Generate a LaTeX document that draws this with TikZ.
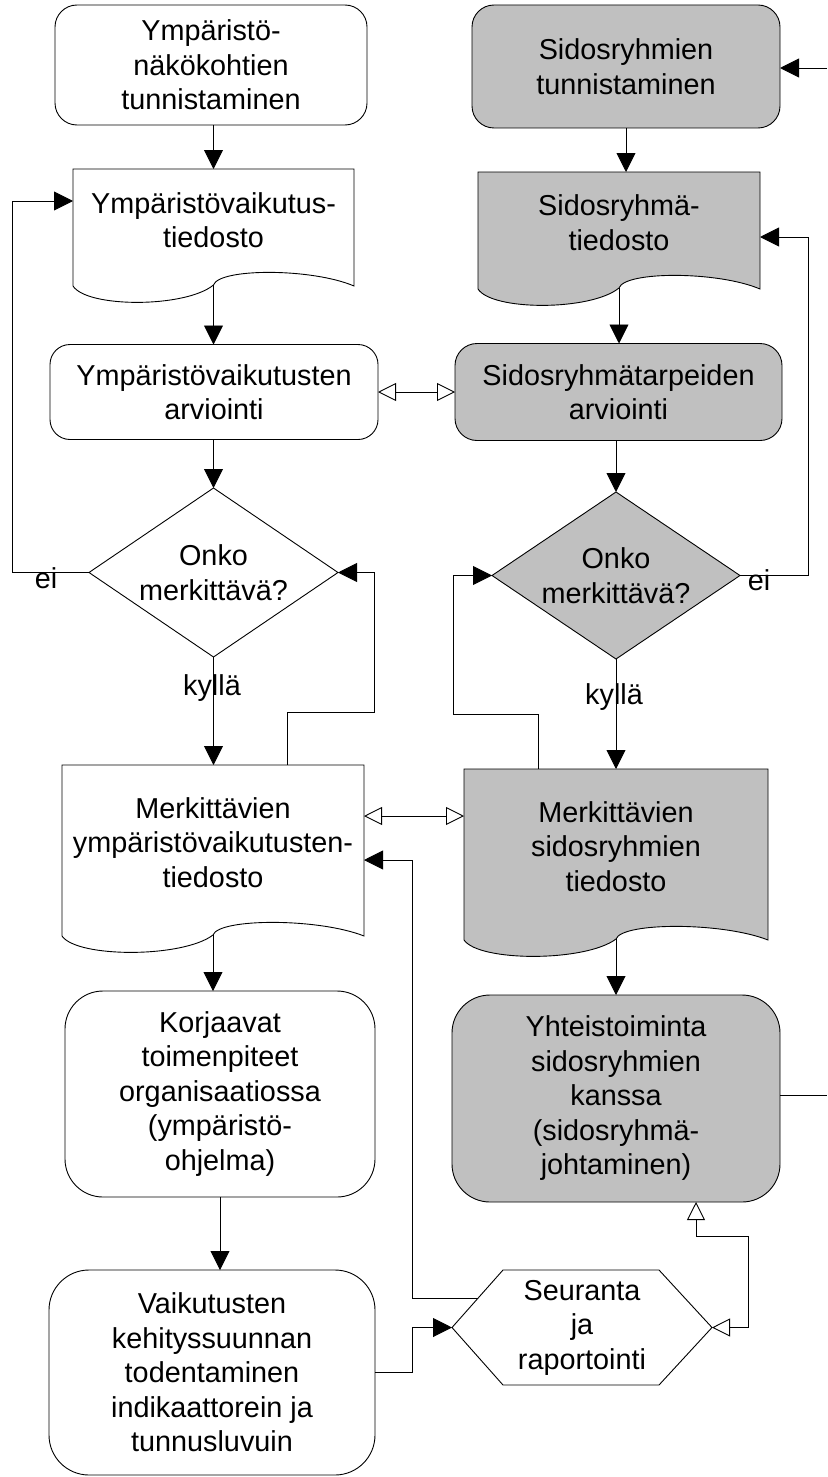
\documentclass[tikz,border=0pt]{standalone}
\usepackage{fontspec}
\setmainfont{Liberation Sans}
\usetikzlibrary{arrows.meta,shapes.geometric,calc}
\definecolor{sgray}{HTML}{C0C0C0}
\newcommand\fs{\fontsize{28.8pt}{34.5pt}\selectfont}
\newcommand\mydoc[5]{%
  \pgfmathsetmacro\dW{#3-#2}%
  \pgfmathsetmacro\dM{(#2+#3)/2}%
  \path[#1] (#2,#4) -- (#3,#4) -- (#3,#5)
    .. controls (#3-0.15*\dW,#5-18) and (\dM+0.02*\dW,#5-18) .. (\dM,#5-1)
    .. controls (\dM-0.1*\dW,#5+22) and (#2+0.05*\dW,#5+22) .. (#2,#5) -- cycle;}
\begin{document}
\begin{tikzpicture}[x=1pt,y=-1pt,
  base/.style={font=\fs, align=center, inner sep=0pt, outer sep=0pt},
  rbox/.style={base, draw, line width=0.9pt, rounded corners=#1},
  rbox/.default=22pt,
  gray/.style={fill=sgray},
  dia/.style={base, draw, line width=0.9pt, diamond, aspect=1.47},
  outline/.style={draw, line width=0.9pt},
  conn/.style={line width=0.9pt},
  arr/.style={conn, -{Triangle[length=19pt,width=19pt]}},
  oboth/.style={conn, {Triangle[open,length=18pt,width=18pt]}-{Triangle[open,length=18pt,width=18pt]}},
  lab/.style={base}]
\fill[white] (0,0) rectangle (827,1477);
\useasboundingbox (0,0) rectangle (827,1477);

% ---- document outlines (drawn first)
\mydoc{outline, fill=white}{73}{354}{169}{286}
\mydoc{outline, fill=sgray}{478}{760}{172}{289}
\mydoc{outline, fill=white}{62}{364}{765}{936}
\mydoc{outline, fill=sgray}{464}{768}{769}{940}

% ---- left column
\node[rbox, minimum width=312pt, minimum height=120pt] (L1) at (211,65) {Ympäristö-\\näkökohtien\\tunnistaminen};
\node[base, minimum width=281pt, minimum height=102pt] (L2) at (213.5,220) {Ympäristövaikutus-\\tiedosto};
\coordinate (L2c) at (213.5,285);
\node[rbox=20pt, minimum width=328pt, minimum height=95pt] (L3) at (214,392) {Ympäristövaikutusten\\arviointi};
\node[dia, minimum width=249pt, minimum height=169pt] (L4) at (213.5,572.5) {Onko\\merkittävä?};
\node[base, minimum width=302pt, minimum height=155pt] (L5) at (213,842.5) {Merkittävien\\ympäristövaikutusten-\\tiedosto};
\coordinate (L5c) at (213,935);
\node[rbox=38pt, minimum width=310pt, minimum height=206pt] (L6) at (220,1094) {Korjaavat\\toimenpiteet\\organisaatiossa\\(ympäristö-\\ohjelma)};
\node[rbox=40pt, minimum width=326pt, minimum height=205pt] (L7) at (212,1372.5) {Vaikutusten\\kehityssuunnan\\todentaminen\\indikaattorein ja\\tunnusluvuin};

% ---- right column
\node[rbox, gray, minimum width=308pt, minimum height=123pt] (R1) at (626,66.5) {Sidosryhmien\\tunnistaminen};
\node[base, minimum width=282pt, minimum height=101pt] (R2) at (619,222.5) {Sidosryhmä-\\tiedosto};
\coordinate (R2c) at (619,288);
\node[rbox, gray, minimum width=327pt, minimum height=97pt] (R3) at (618.5,392) {Sidosryhmätarpeiden\\arviointi};
\node[dia, gray, minimum width=248pt, minimum height=167pt] (R4) at (616,575.5) {Onko\\merkittävä?};
\node[base, minimum width=304pt, minimum height=155pt] (R5) at (616,846.5) {Merkittävien\\sidosryhmien\\tiedosto};
\coordinate (R5c) at (616,939);
\node[rbox=38pt, gray, minimum width=328pt, minimum height=207pt] (R6) at (616,1098.5) {Yhteistoiminta\\sidosryhmien\\kanssa\\(sidosryhmä-\\johtaminen)};

% ---- hexagon
\node[base, minimum width=260pt, minimum height=115pt] (hex) at (582,1327.5) {Seuranta\\ja\\raportointi};
\draw[outline] (hex.west) -- ($(hex.north west)+(51,0)$) -- ($(hex.north east)+(-53,0)$) -- (hex.east)
  -- ($(hex.south east)+(-53,0)$) -- ($(hex.south west)+(51,0)$) -- cycle;

% ---- coordinates for bends and free ends
\coordinate (eiL) at (12,201);
\coordinate (eiR) at (808,237);
\coordinate (lpLa) at (287,712);
\coordinate (lpLb) at (374,712);
\coordinate (lpRa) at (538,714);
\coordinate (lpRb) at (453,714);
\coordinate (hxA) at (478,1298);
\coordinate (hxB) at (412,1298);
\coordinate (hxC) at (412,860);
\coordinate (l7b) at (412,1327.5);
\coordinate (hrA) at (748,1327.5);
\coordinate (hrB) at (748,1236);
\coordinate (hrC) at (696,1236);
\coordinate (mid5) at (414,816);
\coordinate (inR1) at (827,68);
\coordinate (outR6) at (827,1095);

% ---- left connectors
\draw[arr] (L2.north |- L1.south) -- (L2.north);
\draw[arr] (L2c) -- (L2c |- L3.north);
\draw[arr] (L4.north |- L3.south) -- (L4.north);
\draw[arr] (L4.south) -- (L4.south |- L5.north);
\draw[arr] (L5c) -- (L5c |- L6.north);
\draw[arr] (L6.south) -- (L6.south |- L7.north);
\draw[arr] (L4.west) -| (eiL) -- (L2.west |- eiL);
\draw[arr] (L5.north -| lpLa) -- (lpLa) -- (lpLb) |- (L4.east);
\draw[arr] (L7.east) -| (l7b) -- (hex.west);
\draw[arr] (hxA) -- (hxB) -- (hxC) -- (L5.east |- hxC);

% ---- right connectors
\draw[arr] (inR1) -- (R1.east |- inR1);
\draw[arr] (R1.south) -- (R1.south |- R2.north);
\draw[arr] (R2c) -- (R2c |- R3.north);
\draw[arr] (R4.north |- R3.south) -- (R4.north);
\draw[arr] (R4.south) -- (R4.south |- R5.north);
\draw[arr] (R5c) -- (R5c |- R6.north);
\draw[arr] (R4.east) -| (eiR) -- (R2.east |- eiR);
\draw[arr] (R5.north -| lpRa) -- (lpRa) -- (lpRb) |- (R4.west);
\draw[conn] (R6.east |- outR6) -- (outR6);
\draw[oboth] (hex.east) -- (hrA) -- (hrB) -- (hrC) -- (hrC |- R6.south);

% ---- cross connectors
\draw[oboth] (L3.east) -- (R3.west);
\draw[oboth] (L5.east |- mid5) -- (R5.west |- mid5);

% ---- labels
\node[lab] (eiLt) at (46,578) {ei};
\node[lab] (eiRt) at (759,580) {ei};
\node[lab] (kyL) at (212,688) {kyllä};
\node[lab] (kyR) at (614,697) {kyllä};
\end{tikzpicture}
\end{document}
